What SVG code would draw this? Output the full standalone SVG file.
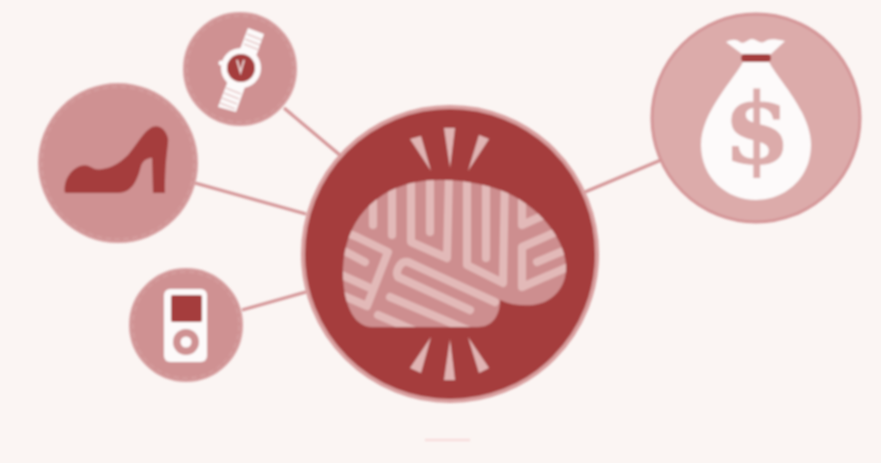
<svg xmlns="http://www.w3.org/2000/svg" width="881" height="463" viewBox="0 0 881 463">
<style>
.link{stroke:#d49597;stroke-width:3.2;fill:none}
.disc{fill:#cf9192;stroke:#d7a0a1;stroke-width:2}
.stitch{fill:none;stroke:#dfb2b2;stroke-width:1;stroke-dasharray:6 3;opacity:.7}
.fold{fill:none;stroke:#e2b9b8;stroke-width:8;stroke-linecap:round;stroke-linejoin:round}
.ray{fill:#e0b4b3}
.red{fill:#a53e3c}
.white{fill:#fdfafa}
.band{stroke:#e8cccc;stroke-width:1.6}
</style>
<defs>
<filter id="soft" x="-5%" y="-5%" width="110%" height="110%"><feGaussianBlur stdDeviation="0.8"/></filter>
<clipPath id="brainClip"><path d="M372 327L478 327C492 327 500 316 500 300C511 305 522 306 533 305C552 303 567 288 566 266C565 240 540 205 500 190C480 183 460 180 440 180C405 180 382 192 365 210C350 226 343 250 343 272C343 300 352 327 372 327Z"/></clipPath>
</defs>
<rect width="881" height="463" fill="#fbf5f3"/>
<g filter="url(#soft)">
<g id="connectors">
<line class="link" x1="284" y1="108" x2="341" y2="156"/>
<line class="link" x1="195" y1="183" x2="306" y2="214"/>
<line class="link" x1="242" y1="310" x2="306" y2="292"/>
<line class="link" x1="585" y1="192" x2="661" y2="160"/>
</g>
<g id="watch">
<circle class="disc" cx="240" cy="69" r="56"/>
<circle class="stitch" cx="240" cy="69" r="53"/>
<polygon class="white" points="248,28 264,34 236,112 218,107"/>
<g class="band">
<line x1="247" y1="34" x2="262" y2="40"/><line x1="245" y1="39" x2="260" y2="45"/><line x1="244" y1="44" x2="259" y2="50"/>
<line x1="226" y1="88" x2="241" y2="94"/><line x1="224" y1="93" x2="239" y2="99"/><line x1="222" y1="98" x2="237" y2="104"/><line x1="220" y1="103" x2="235" y2="109"/>
</g>
<circle class="white" cx="241" cy="68" r="20"/>
<circle class="white" cx="221" cy="63" r="2.5"/>
<circle class="red" cx="241" cy="68" r="14"/>
<path d="M237 60L240.500 72L244 60" fill="none" stroke="#ecd5d5" stroke-width="1.800"/>
</g>
<g id="shoe">
<circle class="disc" cx="118" cy="163" r="79"/>
<circle class="stitch" cx="118" cy="163" r="76"/>
<path class="red" d="M64.500 191C64 180 70 170 80 166C87 164 90 167 95 169C105 171 118 165 128 155C138 143 143 132 152 127C160 124 166 130 168 138C169 145 165 155 165 193L153 193L152 158C148 158 143 160 141 166C138 178 133 193 118 193L70 193C66 193 64.500 193 64.500 191Z"/>
</g>
<g id="ipod">
<circle class="disc" cx="186" cy="325" r="56"/>
<circle class="stitch" cx="186" cy="325" r="53"/>
<rect class="white" x="164" y="289" width="43" height="73" rx="6"/>
<rect class="red" x="171" y="295" width="31" height="27" rx="2"/>
<circle cx="186" cy="342" r="13" fill="#cf9192"/>
<circle class="white" cx="186" cy="342" r="5.500"/>
</g>
<g id="money-bag">
<circle cx="756" cy="118" r="104" fill="#dcabaa" stroke="#d49597" stroke-width="3"/>
<path class="white" d="M743 62C735 78 701 112 701 145C701 178 727 200 756 200C785 200 811 178 811 145C811 112 777 78 769 62Z"/>
<path class="white" d="M726 42C732 39 736 39 740 42C744 45 748 39 752 39C756 39 760 44 764 42C768 39 772 38 785 41L771 54L742 54Z"/>
<rect class="red" x="741" y="54" width="30" height="8" rx="4"/>
<text x="757" y="163" text-anchor="middle" font-family="'DejaVu Serif',serif" font-weight="700" font-size="97" fill="#dcabaa" stroke="#dcabaa" stroke-width="1">$</text>
</g>
<g id="brain-hub">
<circle cx="450" cy="254" r="147" fill="#a53e3c" stroke="#d89e9e" stroke-width="4"/>
<polygon class="ray" points="410,139 421,136 431,171"/>
<polygon class="ray" points="444,128 455,128 450,168"/>
<polygon class="ray" points="479,135 489,139 468,171"/>
<polygon class="ray" points="431,337 421,373 410,368"/>
<polygon class="ray" points="450,339 455,380 444,380"/>
<polygon class="ray" points="468,337 489,368 479,373"/>
<path d="M372 327L478 327C492 327 500 316 500 300C511 305 522 306 533 305C552 303 567 288 566 266C565 240 540 205 500 190C480 183 460 180 440 180C405 180 382 192 365 210C350 226 343 250 343 272C343 300 352 327 372 327Z" fill="#cd8e8f"/>
<g clip-path="url(#brainClip)">
<path class="fold" d="M373 195V225"/>
<path class="fold" d="M392 185V235"/>
<path class="fold" d="M411 175V242L447 258L449 175"/>
<path class="fold" d="M430 170V232"/>
<path class="fold" d="M467 170V265L503 283L505 175"/>
<path class="fold" d="M486 170V258"/>
<path class="fold" d="M522 185V225L560 208"/>
<path class="fold" d="M556 232L522 247V287L575 264"/>
<path class="fold" d="M537 262L575 246"/>
<path class="fold" d="M495 302L408 262C400 260 395 272 398 277L470 310"/>
<path class="fold" d="M390 297L470 331"/>
<path class="fold" d="M378 315L420 333"/>
<path class="fold" d="M335 228L357 237L388 252L367 306L335 292"/>
<path class="fold" d="M335 246L365 262"/>
<path class="fold" d="M335 272L368 287"/>
</g>
</g>
<rect x="425" y="439" width="45" height="2" fill="#f8d9d9"/>
</g>
</svg>
